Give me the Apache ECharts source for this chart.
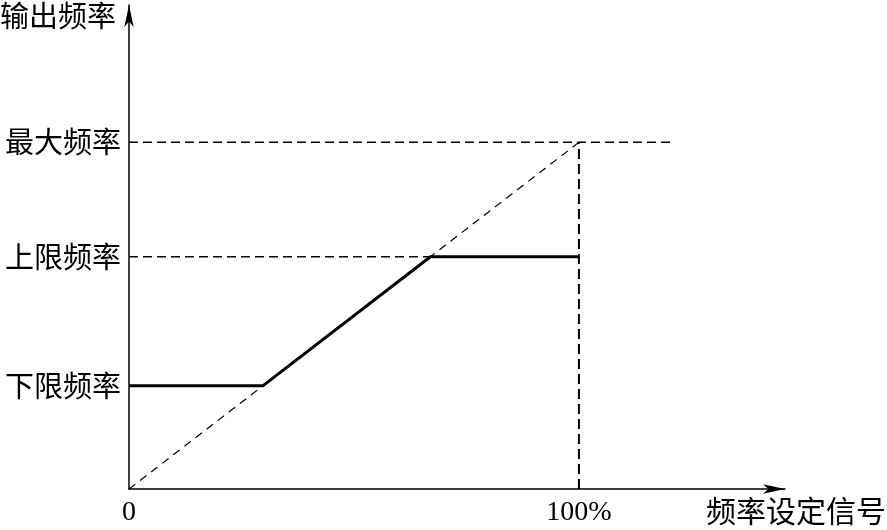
<!DOCTYPE html>
<html><head><meta charset="utf-8">
<script src="https://cdn.jsdelivr.net/npm/echarts@6/dist/echarts.min.js"></script>
<style>html,body{margin:0;padding:0;background:#fff}#c{width:887px;height:530px}</style>
</head><body><div id="c"></div>
<script>
// values (x: fraction of 100% signal, y: fraction of max frequency)
const levelNames = ['下限频率', '上限频率', '最大频率'];
const levelValues = [0.298, 0.670, 1.0];
const xTickValues = [0, 1];
const xTickLabels = ['0', '100%'];
const xAxisName = '频率设定信号';
const yAxisName = '输出频率';
const lower = levelValues[0], upper = levelValues[1], maxF = levelValues[2];
const outputLine = [[0, lower], [lower, lower], [upper, upper], [1, upper]];
const diagonal = [[0, 0], [1, maxF]];
const maxLine = [[0, maxF], [1.21, maxF]];
const vertLine = [[1, 0], [1, maxF]];
const upperDash = [[0, upper], [upper, upper]];

const cjk = '"Noto Sans CJK SC", sans-serif';
const chart = echarts.init(document.getElementById('c'));
const dashSeries = (data, w, dash) => ({
  type: 'line', data, symbol: 'none', silent: true,
  lineStyle: { color: '#000', width: w, type: dash }
});
chart.setOption({
  animation: false,
  grid: { left: 129, top: 5, right: 102, bottom: 41 },
  xAxis: {
    type: 'value', min: 0, max: 1.458,
    splitLine: { show: false }, axisTick: { show: false },
    axisLine: { onZero: false, lineStyle: { color: '#000', width: 1.5 }, symbol: ['none', 'arrow'], symbolSize: [7, 22] },
    axisLabel: {
      customValues: xTickValues, margin: 10, color: '#000',
      fontFamily: '"Liberation Serif", serif', fontSize: 28,
      formatter: v => xTickLabels[xTickValues.indexOf(v)]
    }
  },
  yAxis: {
    type: 'value', min: 0, max: 1.396,
    splitLine: { show: false }, axisTick: { show: false },
    axisLine: { onZero: false, lineStyle: { color: '#000', width: 1.5 }, symbol: ['none', 'arrow'], symbolSize: [7, 22] },
    axisLabel: {
      customValues: levelValues, margin: 8, color: '#000',
      fontFamily: cjk, fontSize: 29,
      formatter: v => levelNames[levelValues.indexOf(v)]
    }
  },
  graphic: [
    { type: 'text', left: 0, top: 1, style: { text: yAxisName, font: '29px ' + cjk, fill: '#000' } },
    { type: 'text', right: 1, top: 496, style: { text: xAxisName, font: '30px ' + cjk, fill: '#000' } }
  ],
  series: [
    dashSeries(diagonal, 1.2, [8, 6]),
    dashSeries(maxLine, 1.5, [9, 5]),
    dashSeries(upperDash, 1.5, [9, 5]),
    dashSeries(vertLine, 2, [10, 5]),
    { type: 'line', data: outputLine, symbol: 'none', silent: true, lineStyle: { color: '#000', width: 3 } }
  ]
});
</script></body></html>
